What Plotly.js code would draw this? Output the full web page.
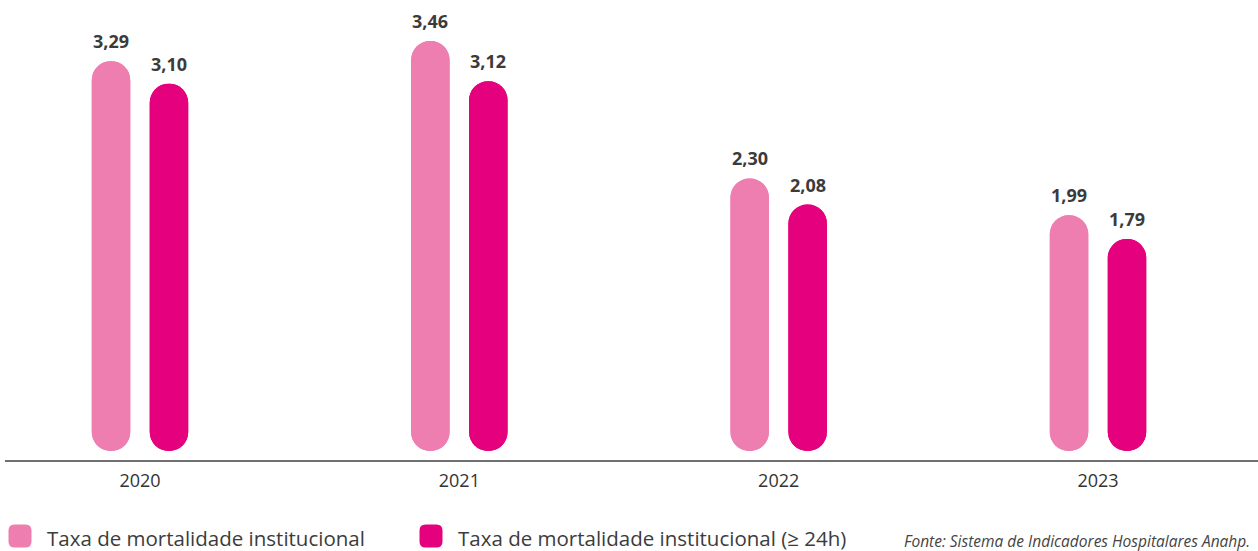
<!DOCTYPE html>
<html>
<head>
<meta charset="utf-8">
<script src="https://cdn.plot.ly/plotly-3.0.1.min.js"></script>
<style>html,body{margin:0;padding:0;background:#fff;}#chart{width:1258px;height:551px;}</style>
</head>
<body>
<div id="chart"></div>
<script>
// ---- data ----
const years = ['2020', '2021', '2022', '2023'];
const seriesNames = ['Taxa de mortalidade institucional', 'Taxa de mortalidade institucional (≥ 24h)'];
const taxaInstitucional = [3.29, 3.46, 2.30, 1.99];
const taxaInstitucional24h = [3.10, 3.12, 2.08, 1.79];
const sourceText = 'Fonte: Sistema de Indicadores Hospitalares Anahp.';

// ---- style ----
const colors = ['#ee7eb0', '#e5007e'];
const FONT = '"Open Sans", "Noto Sans", sans-serif';
const seriesValues = [taxaInstitucional, taxaInstitucional24h];
const groups = ['a', 'b'];
const xShifts = [-29, 29];

const traces = [];
seriesValues.forEach((vals, i) => {
  // bar drawn upward: rounded top
  traces.push({
    type: 'bar', x: years, y: vals, base: 0,
    offsetgroup: groups[i], name: seriesNames[i], showlegend: false,
    marker: {color: colors[i], cornerradius: '50%', line: {width: 0}},
    hoverinfo: 'skip'
  });
  // same bar drawn downward: rounded bottom
  traces.push({
    type: 'bar', x: years, y: vals.map(v => -v), base: vals,
    offsetgroup: groups[i], name: seriesNames[i], showlegend: false,
    marker: {color: colors[i], cornerradius: '50%', line: {width: 0}},
    hoverinfo: 'skip'
  });
});

const annotations = [];
seriesValues.forEach((vals, i) => {
  vals.forEach((v, j) => {
    annotations.push({
      xref: 'x', yref: 'y', x: j, y: v,
      text: '<b>' + v.toFixed(2).replace('.', ',') + '</b>',
      showarrow: false, xshift: xShifts[i], yshift: 6,
      yanchor: 'bottom', xanchor: 'center',
      font: {family: FONT, size: 18, color: '#3b3b3b'}
    });
  });
});

// legend (drawn as text + rounded squares)
const legendX = [45, 456];
const markerX = [20, 431];
const W = 1253, H = 460, L = 5;
const shapes = [];
seriesNames.forEach((n, i) => {
  annotations.push({
    xref: 'paper', yref: 'paper', x: (legendX[i] - L) / W, y: (H - 538) / H,
    text: n, showarrow: false, xanchor: 'left', yanchor: 'middle',
    font: {family: FONT, size: 20.5, color: '#3c3c3c'}
  });
  shapes.push({
    type: 'path', xref: 'paper', yref: 'paper',
    xsizemode: 'pixel', ysizemode: 'pixel',
    xanchor: (markerX[i] - L) / W, yanchor: (H - 536) / H,
    path: 'M-11.5,-5.5 Q-11.5,-11.5 -5.5,-11.5 L5.5,-11.5 Q11.5,-11.5 11.5,-5.5 L11.5,5.5 Q11.5,11.5 5.5,11.5 L-5.5,11.5 Q-11.5,11.5 -11.5,5.5 Z',
    fillcolor: colors[i], line: {width: 0}
  });
});
annotations.push({
  xref: 'paper', yref: 'paper', x: (1252 - L) / W, y: (H - 541) / H,
  text: '<i>' + sourceText + '</i>', showarrow: false, xanchor: 'right', yanchor: 'middle',
  font: {family: FONT, size: 15.5, color: '#444444'}
});

const layout = {
  width: 1258, height: 551,
  margin: {l: 5, r: 0, t: 0, b: 91, pad: 0},
  paper_bgcolor: '#ffffff', plot_bgcolor: '#ffffff',
  barmode: 'group', bargap: 0.637, bargroupgap: 0.336,
  showlegend: false,
  separators: ',.',
  font: {family: FONT, color: '#333333'},
  xaxis: {
    type: 'category', range: [-0.4227, 3.501],
    showgrid: false, zeroline: false,
    showline: true, linecolor: '#707070', linewidth: 1.5,
    ticks: 'outside', ticklen: 4, tickcolor: 'rgba(0,0,0,0)',
    tickfont: {family: FONT, size: 18, color: '#333333'},
    fixedrange: true
  },
  yaxis: {
    range: [-0.076, 3.806],
    showgrid: false, zeroline: false, showline: false, showticklabels: false,
    fixedrange: true
  },
  annotations: annotations,
  shapes: shapes,
  hovermode: false
};

Plotly.newPlot('chart', traces, layout, {staticPlot: true, displayModeBar: false});
</script>
</body>
</html>
